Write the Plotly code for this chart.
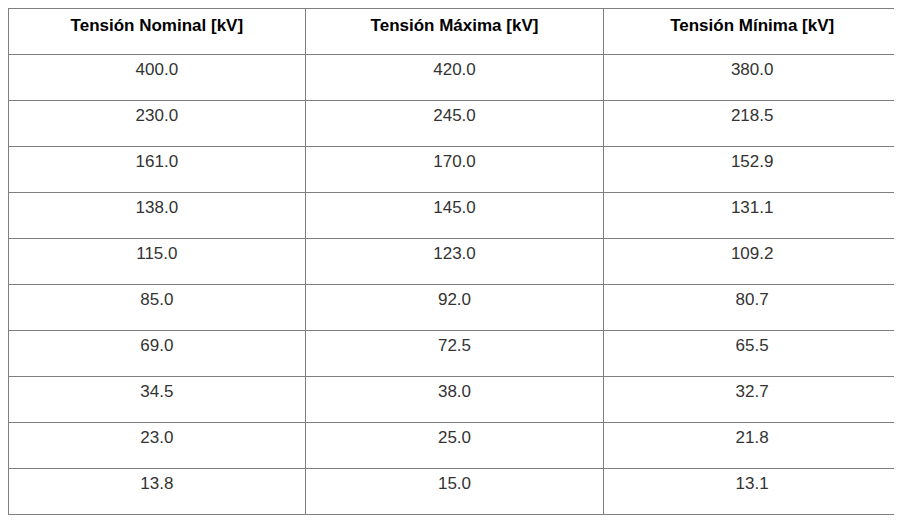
import plotly.graph_objects as go

headers = ["<b>Tensión Nominal [kV]</b>", "<b>Tensión Máxima [kV]</b>", "<b>Tensión Mínima [kV]</b>"]
nominal = [400.0, 230.0, 161.0, 138.0, 115.0, 85.0, 69.0, 34.5, 23.0, 13.8]
maxima = [420.0, 245.0, 170.0, 145.0, 123.0, 92.0, 72.5, 38.0, 25.0, 15.0]
minima = [380.0, 218.5, 152.9, 131.1, 109.2, 80.7, 65.5, 32.7, 21.8, 13.1]

fmt = lambda v: [f"{x:.1f}" for x in v]

fig = go.Figure(go.Table(
    columnwidth=[1, 1, 1],
    header=dict(values=headers, height=46, align="center",
                fill_color="white", line=dict(color="#7f7f7f", width=1),
                font=dict(family="Liberation Sans, Arial", size=17, color="black")),
    cells=dict(values=[fmt(nominal), fmt(maxima), fmt(minima)], height=46, align="center",
               fill_color="white", line=dict(color="#7f7f7f", width=1),
               font=dict(family="Liberation Sans, Arial", size=17, color="#333333")),
    domain=dict(x=[0, 0.999], y=[0, 1]),
))
fig.update_layout(width=894, height=510, margin=dict(l=0, r=0, t=0, b=0),
                  paper_bgcolor="white")
fig.write_html("out.html")
